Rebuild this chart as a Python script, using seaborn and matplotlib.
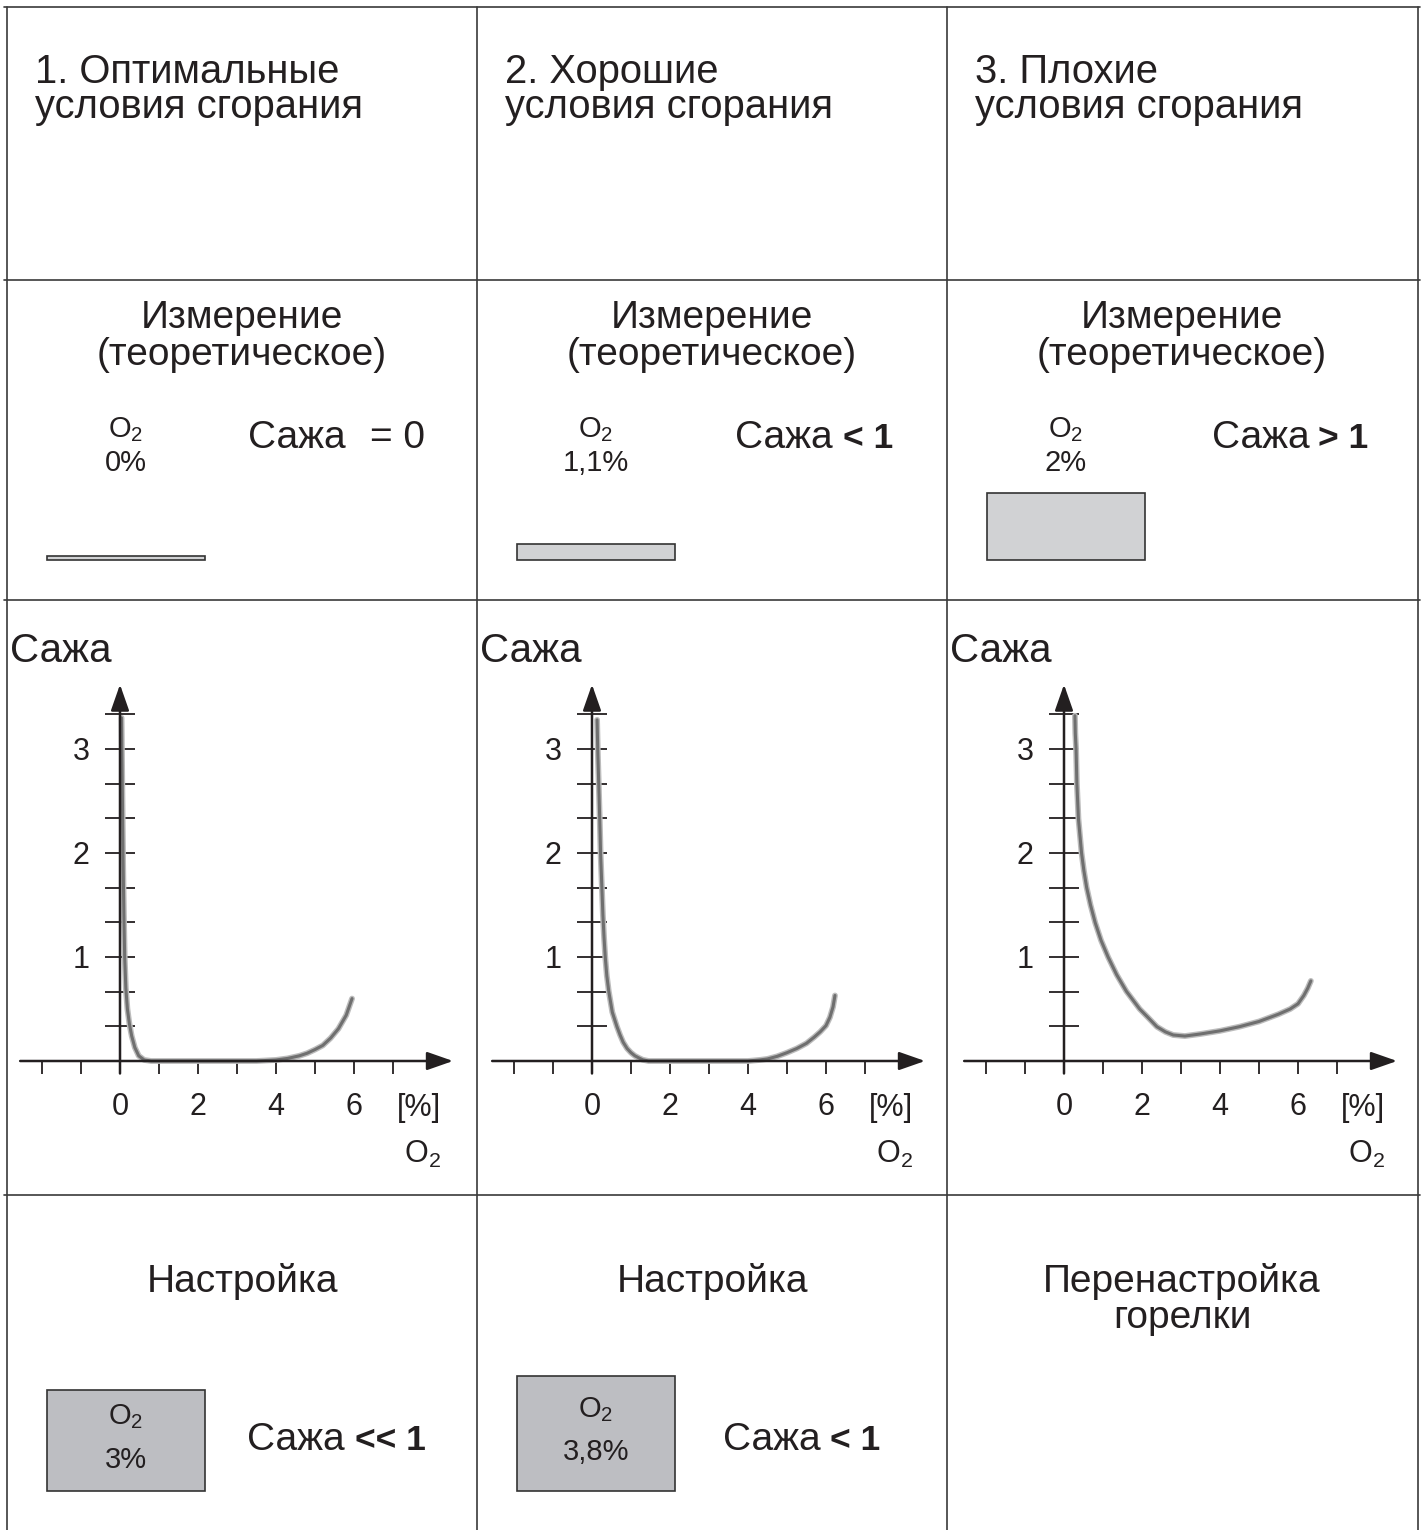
import numpy as np
import pandas as pd
import matplotlib
matplotlib.use('Agg')
import matplotlib.pyplot as plt
from matplotlib.patches import Rectangle
import seaborn as sns

# --- dados ---
titulos = [["1. Оптимальные", "условия сгорания"],
           ["2. Хорошие", "условия сгорания"],
           ["3. Плохие", "условия сгорания"]]
o2_medido = ["0%", "1,1%", "2%"]
sazha_medida = ["= 0", "< 1", "> 1"]
sazha_nivel = [0.04, 0.16, 0.67]     # altura relativa da barra de fuligem

# curvas Сажа x O2
x1 = [0.04, 0.06, 0.08, 0.10, 0.12, 0.15, 0.19, 0.24, 0.30, 0.38, 0.48, 0.62, 0.8, 1.5, 2.5, 3.5,
      4.0, 4.3, 4.6, 4.8, 5.0, 5.2, 5.4, 5.6, 5.8, 5.95]
y1 = [3.30, 2.60, 1.90, 1.40, 1.00, 0.70, 0.50, 0.36, 0.24, 0.13, 0.05, 0.01, 0.0, 0.0, 0.0, 0.0,
      0.01, 0.025, 0.05, 0.075, 0.11, 0.15, 0.22, 0.31, 0.44, 0.60]
x2 = [0.13, 0.15, 0.17, 0.20, 0.22, 0.25, 0.28, 0.31, 0.34, 0.38, 0.43, 0.52, 0.64, 0.72, 0.80, 0.90,
      1.00, 1.10, 1.20, 1.30, 1.45, 2.0, 3.0, 4.0, 4.3, 4.5, 4.75, 5.0, 5.25, 5.5, 5.7, 5.85, 6.0,
      6.1, 6.18, 6.23]
y2 = [3.28, 2.95, 2.70, 2.30, 2.00, 1.70, 1.40, 1.18, 1.00, 0.82, 0.67, 0.47, 0.33, 0.25, 0.18, 0.12,
      0.08, 0.05, 0.03, 0.012, 0.0, 0.0, 0.0, 0.0, 0.01, 0.02, 0.045, 0.08, 0.12, 0.17, 0.23, 0.28, 0.34,
      0.42, 0.52, 0.63]
x3 = [0.28, 0.29, 0.31, 0.33, 0.37, 0.45, 0.51, 0.58, 0.68, 0.80, 0.95, 1.13, 1.35, 1.60, 1.94, 2.15,
      2.38, 2.60, 2.80, 3.10, 3.50, 4.0, 4.5, 5.0, 5.5, 5.8, 6.0, 6.15, 6.25, 6.33]
y3 = [3.32, 3.15, 3.00, 2.67, 2.33, 2.00, 1.83, 1.67, 1.50, 1.33, 1.16, 1.00, 0.83, 0.67, 0.50, 0.42,
      0.33, 0.28, 0.25, 0.24, 0.26, 0.29, 0.33, 0.38, 0.45, 0.50, 0.55, 0.63, 0.70, 0.77]
curvas = [(x1, y1), (x2, y2), (x3, y3)]

x_ticks = [-2, -1, 0, 1, 2, 3, 4, 5, 6, 7]
x_labels = ['', '', '0', '', '2', '', '4', '', '6', '']
y_ticks = [k / 3 for k in range(1, 11)]
y_labels = ['', '', '1', '', '', '2', '', '', '3', '']

ajuste_o2 = ["3%", "3,8%"]
ajuste_sazha = ["<< 1", "< 1"]
ajuste_titulo = [["Настройка"], ["Настройка"], ["Перенастройка", "горелки"]]

# --- estilo ---
sns.set_style("white")
plt.rcParams['font.family'] = ['Liberation Sans', 'DejaVu Sans']
plt.rcParams['mathtext.default'] = 'regular'

W, H = 1423, 1530
txt = '#231f20'
linha = '#3a3a3a'
fig = plt.figure(figsize=(W / 100, H / 100), dpi=100)
fig.patch.set_facecolor('white')

bg = fig.add_axes([0, 0, 1, 1])
bg.set_xlim(0, W)
bg.set_ylim(H, 0)
bg.axis('off')

# grade da tabela
for xv in [7, 477, 947, 1418]:
    bg.plot([xv, xv], [7, H], color=linha, lw=1.2)
for yv in [7, 280, 600, 1195]:
    bg.plot([4, 1420], [yv, yv], color=linha, lw=1.2)

col_left = [7, 477, 947]
grande = 28
pequeno = 21
negrito = 25.5

for i in range(3):
    c0 = col_left[i]
    cx = c0 + 235
    # linha 1
    bg.text(c0 + 28, 83, titulos[i][0], fontsize=28.8, color=txt, va='baseline', ha='left')
    bg.text(c0 + 28, 118, titulos[i][1], fontsize=28.8, color=txt, va='baseline', ha='left')
    # linha 2
    bg.text(cx, 328, "Измерение", fontsize=grande, color=txt, ha='center', va='baseline')
    bg.text(cx, 365, "(теоретическое)", fontsize=grande, color=txt, ha='center', va='baseline')
    ox = c0 + 119
    bg.text(ox, 437, "O$_2$", fontsize=pequeno, color=txt, ha='center', va='baseline')
    bg.text(ox, 471, o2_medido[i], fontsize=pequeno, color=txt, ha='center', va='baseline')
    sx0 = [248, 735, 1212][i]
    bx0 = [370, 843, 1318][i]
    bg.text(sx0, 448, "Сажа", fontsize=grande, color=txt, ha='left', va='baseline')
    if i == 0:
        bg.text(bx0, 448, sazha_medida[i], fontsize=grande, color=txt, ha='left', va='baseline')
    else:
        bg.text(bx0, 448, sazha_medida[i], fontsize=negrito, color=txt, ha='left', va='baseline',
                fontweight='bold')
    h = sazha_nivel[i] * 100
    bg.add_patch(Rectangle((c0 + 40, 560 - h), 158, h, facecolor='#d1d2d4',
                           edgecolor='#333333', lw=1.2))
    # linha 3
    bg.text(c0 + 3, 662, "Сажа", fontsize=29, color=txt, ha='left', va='baseline')
    # linha 4
    for j, t in enumerate(ajuste_titulo[i]):
        bg.text(cx, 1292 + 36 * j, t, fontsize=grande, color=txt, ha='center', va='baseline')

# caixas de ajuste
box_top = [1390, 1376]
for i in range(2):
    c0 = col_left[i]
    bg.add_patch(Rectangle((c0 + 40, box_top[i]), 158, 1491 - box_top[i], facecolor='#bdbec2',
                           edgecolor='#333333', lw=1.2))
    mid = (box_top[i] + 1491) / 2
    bg.text(c0 + 119, mid - 16, "O$_2$", fontsize=pequeno, color=txt, ha='center', va='baseline')
    bg.text(c0 + 119, mid + 27, ajuste_o2[i], fontsize=pequeno, color=txt, ha='center', va='baseline')
    sx0 = [247, 723][i]
    bx0 = [355, 830][i]
    bg.text(sx0, 1450, "Сажа", fontsize=grande, color=txt, ha='left', va='baseline')
    bg.text(bx0, 1450, ajuste_sazha[i], fontsize=negrito, color=txt, ha='left', va='baseline',
            fontweight='bold')

# graficos
origens = [(120, 1061), (592, 1061), (1064, 1061)]
sx, sy = 39.0, 104.0
xmin, xmax, ymin, ymax = -2.7, 8.7, -1.0, 3.75
for i, (X0, Y0) in enumerate(origens):
    l = X0 + xmin * sx
    r = X0 + xmax * sx
    t = Y0 - ymax * sy
    b = Y0 - ymin * sy
    ax = fig.add_axes([l / W, 1 - b / H, (r - l) / W, (b - t) / H])
    ax.patch.set_alpha(0)
    xs, ys = curvas[i]
    df = pd.DataFrame({'o2': xs, 'sazha': ys})
    sns.lineplot(data=df, x='o2', y='sazha', ax=ax, color='#bcbcbc', lw=4.2, sort=False,
                 estimator=None, solid_capstyle='round', solid_joinstyle='round')
    sns.lineplot(data=df, x='o2', y='sazha', ax=ax, color='#6f6f6f', lw=2.2, sort=False,
                 estimator=None, solid_capstyle='round', solid_joinstyle='round')
    ax.set_xlim(xmin, xmax)
    ax.set_ylim(ymin, ymax)
    ax.set_xlabel('')
    ax.set_ylabel('')
    for s in ax.spines.values():
        s.set_visible(False)
    ax.spines['left'].set_position(('data', 0))
    ax.spines['bottom'].set_position(('data', 0))
    ax.set_xticks(x_ticks)
    ax.set_xticklabels(x_labels)
    ax.set_yticks(y_ticks)
    ax.set_yticklabels(y_labels)
    ax.tick_params(axis='x', bottom=True, direction='out', length=9.5, width=1.3,
                   color=txt, pad=13, labelsize=22, labelcolor=txt)
    ax.tick_params(axis='y', left=True, direction='inout', length=22, width=1.3,
                   color=txt, pad=11, labelsize=22, labelcolor=txt)
    ap = dict(arrowstyle='-|>,head_length=0.8,head_width=0.28', color=txt, lw=1.8,
              shrinkA=0, shrinkB=0, mutation_scale=20)
    ax.annotate('', xy=(8.54, 0), xytext=(-2.56, 0), arrowprops=ap, annotation_clip=False)
    ax.annotate('', xy=(0, 3.62), xytext=(0, -0.12), arrowprops=ap, annotation_clip=False)
    # unidade
    bg.text(X0 + 299, 1116, "[%]", fontsize=22, color=txt, ha='center', va='baseline')
    bg.text(X0 + 302, 1163, "O$_2$", fontsize=22, color=txt, ha='center', va='baseline')

fig.savefig('out.png', dpi=100, facecolor='white')
